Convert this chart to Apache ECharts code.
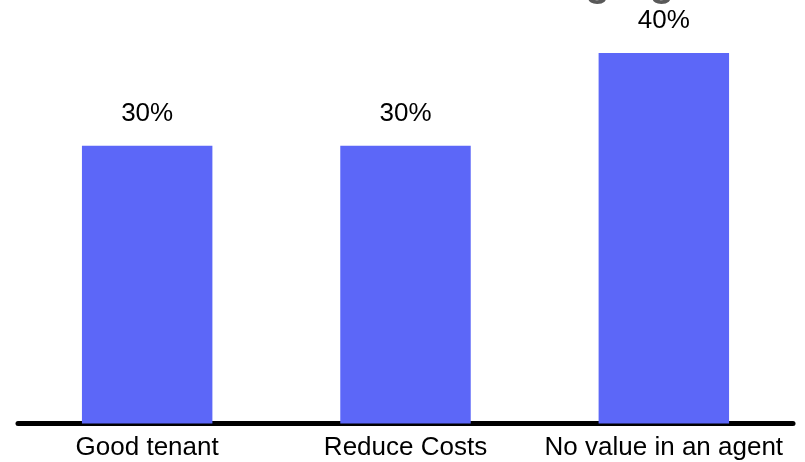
<!DOCTYPE html>
<html><head><meta charset="utf-8">
<script src="https://cdn.jsdelivr.net/npm/echarts@6/dist/echarts.min.js"></script>
<style>html,body{margin:0;padding:0;background:#fff}#c{width:805px;height:462px}</style>
</head><body><div id="c"></div>
<script>
const categories = ['Good tenant', 'Reduce Costs', 'No value in an agent'];
const values = [30, 30, 40];
const titleText = 'Reasons for Hiring Agent';

const chart = echarts.init(document.getElementById('c'), null, {renderer: 'canvas'});
chart.setOption({
  animation: false,
  backgroundColor: '#fff',
  graphic: [{
    type: 'text', left: 252, top: -35, silent: true,
    style: { text: titleText, font: 'bold 40px "Liberation Sans", Arial, sans-serif', fill: '#595959' }
  }],
  grid: { left: 18, right: 12, top: 53, bottom: 38.5 },
  xAxis: {
    type: 'category', data: categories,
    axisLine: { lineStyle: { color: '#000', width: 5 } },
    axisTick: { show: false },
    axisLabel: { interval: 0, color: '#000', fontSize: 26, fontFamily: '"Liberation Sans", Arial, sans-serif', margin: 11 }
  },
  yAxis: { type: 'value', min: 0, max: 40, show: false, splitLine: { show: false } },
  series: [{
    type: 'bar', data: values, barWidth: '50.5%',
    itemStyle: { color: '#5c67f8' },
    label: { show: true, position: 'top', distance: 19, formatter: '{c}%', color: '#000', fontSize: 26, fontFamily: '"Liberation Sans", Arial, sans-serif' }
  }]
});
</script></body></html>
